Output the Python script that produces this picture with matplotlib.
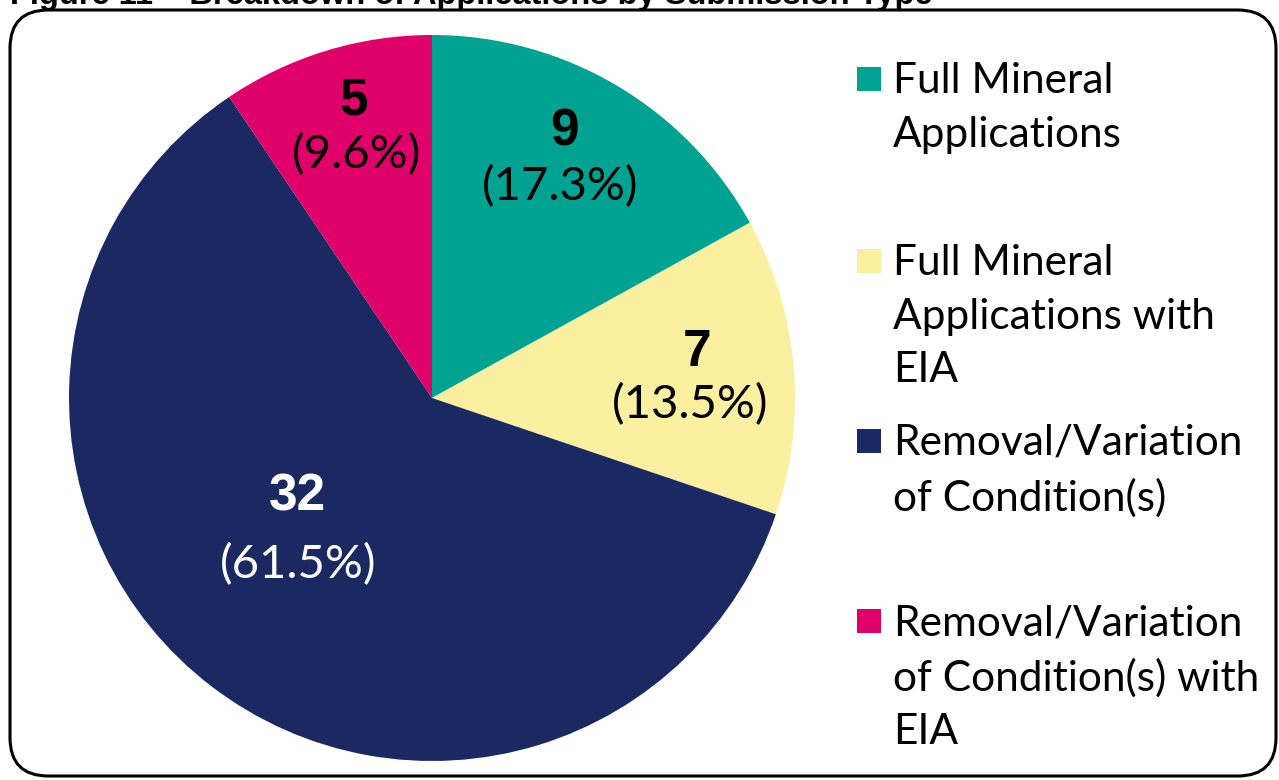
import matplotlib
matplotlib.use("Agg")
import matplotlib.pyplot as plt
from matplotlib.patches import FancyBboxPatch, Rectangle

categories = ["Full Mineral\nApplications",
              "Full Mineral\nApplications with\nEIA",
              "Removal/Variation\nof Condition(s)",
              "Removal/Variation\nof Condition(s) with\nEIA"]
counts = [9, 7, 32, 5]
percents = ["17.3%", "13.5%", "61.5%", "9.6%"]
colors = ["#00A391", "#FAF09F", "#1B2963", "#E0006A"]
text_colors = ["black", "black", "white", "black"]
title = "Figure 11 \u2013 Breakdown of Applications by Submission Type"

W, H = 1279, 780
fig = plt.figure(figsize=(W / 100, H / 100), dpi=100)

def fx(x):
    return x / W

def fy(y):
    return 1 - y / H

# border
border = FancyBboxPatch((fx(10), fy(776)), fx(1266), 766 / H,
                        boxstyle="round,pad=0,rounding_size=0.03",
                        transform=fig.transFigure, fill=False,
                        edgecolor="black", linewidth=2.2,
                        mutation_aspect=W / H)
fig.patches.append(border)

# clipped title
fig.text(fx(10), fy(4), title, fontsize=23.5, fontweight="bold",
         family="Liberation Sans", va="baseline", ha="left")

cx, cy, r = 432, 398, 363
ax = fig.add_axes([fx(cx - r), fy(cy + r), 2 * r / W, 2 * r / H])
ax.pie(counts, colors=colors, startangle=90, counterclock=False, radius=1,
       wedgeprops=dict(linewidth=0))
ax.set_xlim(-1, 1)
ax.set_ylim(-1, 1)
ax.set_aspect("equal")
ax.axis("off")

num_pos = [(565, 132), (697, 353), (297, 497), (354, 101)]
pct_pos = [(560, 187), (690, 405), (298, 565), (357, 155)]
for i in range(len(counts)):
    nx, ny = num_pos[i]
    px, py = pct_pos[i]
    ax.text((nx - cx) / r, (cy - ny) / r, str(counts[i]), fontsize=37,
            fontweight="bold", family="Liberation Sans",
            color=text_colors[i], ha="center", va="center")
    ax.text((px - cx) / r, (cy - py) / r, f"({percents[i]})", fontsize=34,
            family="Lato", color=text_colors[i], ha="center", va="center")

# legend
leg_y = [79, 261, 441, 621]
for i, lab in enumerate(categories):
    fig.patches.append(Rectangle((fx(857), fy(leg_y[i] + 12)), 24 / W, 24 / H,
                                 transform=fig.transFigure,
                                 facecolor=colors[i], edgecolor="none"))
    fig.text(fx(893), fy(leg_y[i] - 17), lab, fontsize=30.5, family="Lato",
             va="top", ha="left", linespacing=1.5)

fig.savefig("out.png", dpi=100)
